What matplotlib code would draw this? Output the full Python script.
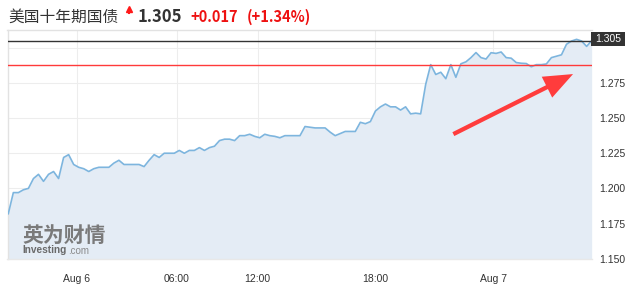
import matplotlib
matplotlib.use("Agg")
import matplotlib.pyplot as plt
from matplotlib.patches import Rectangle
from matplotlib.lines import Line2D
import numpy as np

# ---------------- data ----------------
title_name = "美国十年期国债"
last_price = "1.305"
change_abs = "+0.017"
change_pct = "(+1.34%)"

values = [
    1.182, 1.197, 1.197, 1.199, 1.200, 1.207, 1.210, 1.205, 1.210, 1.212,
    1.207, 1.222, 1.224, 1.217, 1.215, 1.214, 1.212, 1.214, 1.215, 1.215,
    1.215, 1.218, 1.220, 1.217, 1.217, 1.217, 1.217, 1.2155, 1.220, 1.224,
    1.222, 1.225, 1.225, 1.225, 1.227, 1.225, 1.227, 1.227, 1.229, 1.227,
    1.229, 1.230, 1.234, 1.235, 1.235, 1.234, 1.2375, 1.2375, 1.2385, 1.237,
    1.236, 1.2385, 1.2375, 1.237, 1.236, 1.2375, 1.2375, 1.2375, 1.2375, 1.244,
    1.2435, 1.243, 1.243, 1.243, 1.240, 1.2375, 1.239, 1.2405, 1.2405, 1.2405,
    1.247, 1.246, 1.2475, 1.255, 1.258, 1.260, 1.258, 1.258, 1.2557, 1.258,
    1.253, 1.2535, 1.253, 1.274, 1.288, 1.281, 1.2826, 1.278, 1.288, 1.279,
    1.2886, 1.290, 1.293, 1.2966, 1.293, 1.292, 1.2965, 1.296, 1.297, 1.293,
    1.2926, 1.2895, 1.289, 1.2888, 1.2865, 1.288, 1.288, 1.2885, 1.293, 1.294,
    1.295, 1.3025, 1.3048, 1.306, 1.3048, 1.301, 1.305,
]
x_tick_pos = [13.6, 33.5, 49.6, 73.0, 96.4]
x_tick_labels = ["Aug 6", "06:00", "12:00", "18:00", "Aug 7"]
y_ticks = [1.150, 1.175, 1.200, 1.225, 1.250, 1.275, 1.300]
y_tick_labels = ["1.150", "1.175", "1.200", "1.225", "1.250", "1.275", ""]
current_level = 1.305
red_level = 1.288
arrow_from = (88.5, 1.2386)
arrow_to = (112.3, 1.2813)
y_min, y_max = 1.150, 1.313
x_min, x_max = -0.16, 116.07

# ---------------- figure ----------------
W, H = 625, 286
fig = plt.figure(figsize=(W / 100, H / 100), dpi=100)
fig.patch.set_facecolor("white")
plt.rcParams["font.family"] = ["Liberation Sans", "DejaVu Sans"]

def fx(px):
    return px / W

def fy(py):
    return 1 - py / H

left, right, top, bottom = 7.5, 592, 29.5, 258.7
ax = fig.add_axes([fx(left), fy(bottom), fx(right) - fx(left), (bottom - top) / H])

x = np.arange(len(values))
ax.fill_between(x, values, y_min, color="#e4ecf5", lw=0, zorder=1)
ax.plot(x, values, color="#7db5de", lw=1.2, zorder=3)

ax.axhline(current_level, color="#333333", lw=1.0, zorder=4)
ax.axhline(red_level, color="#ff3a3a", lw=1.0, zorder=4)

ax.annotate("", xy=arrow_to, xytext=arrow_from,
            arrowprops=dict(arrowstyle="simple,head_length=1.5,head_width=1.2,tail_width=0.22",
                            color="#ff3c3c", lw=0, mutation_scale=14,
                            shrinkA=0, shrinkB=0), zorder=5)

ax.set_xlim(x_min, x_max)
ax.set_ylim(y_min, y_max)

ax.set_xticks(x_tick_pos)
ax.set_xticklabels(x_tick_labels)
ax.set_yticks(y_ticks)
ax.set_yticklabels(y_tick_labels)
ax.yaxis.tick_right()
ax.tick_params(axis="both", length=0, labelsize=7.5, labelcolor="#333333")
ax.tick_params(axis="x", pad=11)
ax.tick_params(axis="y", pad=5)
ax.grid(True, color="#ededed", lw=0.8, zorder=0)
ax.set_axisbelow(True)
for s in ax.spines.values():
    s.set_color("#e2e2e2")
    s.set_linewidth(1.0)
ax.spines["bottom"].set_color("#e8e8e8")
ax.spines["right"].set_visible(False)

# price box on right
fig.add_artist(Rectangle((fx(591), fy(45.7)), fx(625) - fx(591), (45.7 - 32.3) / H,
                         transform=fig.transFigure, facecolor="#333333",
                         edgecolor="none", zorder=10))
fig.text(fx(608), fy(39.2), last_price, color="white", fontsize=7.5,
         ha="center", va="center", zorder=11)

# title line
cjk = ["Noto Sans CJK SC", "DejaVu Sans"]
fig.text(fx(8), fy(17), title_name, family=cjk, fontsize=11.3,
         color="#333333", ha="left", va="center")
fig.add_artist(Line2D([fx(128.5)], [fy(8.5)], marker="^", markersize=4.5,
                      color="#ff1a1a", transform=fig.transFigure, lw=0))
fig.add_artist(Line2D([fx(128.5), fx(128.5)], [fy(9), fy(12.5)], color="#ff1a1a",
                      lw=1.5, transform=fig.transFigure))
fig.text(fx(138), fy(17), last_price, family=cjk, fontsize=12, weight="bold",
         color="#333333", ha="left", va="center")
fig.text(fx(190), fy(17), change_abs, family=cjk, fontsize=10.5, weight="bold",
         color="#ee1111", ha="left", va="center")
fig.text(fx(247), fy(17), change_pct, family=cjk, fontsize=10.5, weight="bold",
         color="#ee1111", ha="left", va="center")

# watermark
fig.text(fx(22), fy(235), "英为财情", family=cjk, fontsize=15, weight="bold",
         color="#7a7a7a", ha="left", va="center", zorder=6)
fig.text(fx(22), fy(250), "Investing", family=["Liberation Sans", "DejaVu Sans"],
         fontsize=7.3, weight="bold", color="#6a6a6a", ha="left", va="center", zorder=6)
fig.text(fx(68.5), fy(250.5), ".com", family=["Liberation Sans", "DejaVu Sans"],
         fontsize=7, color="#8a8a8a", ha="left", va="center", zorder=6)

fig.savefig("out.png", dpi=100, facecolor="white")
